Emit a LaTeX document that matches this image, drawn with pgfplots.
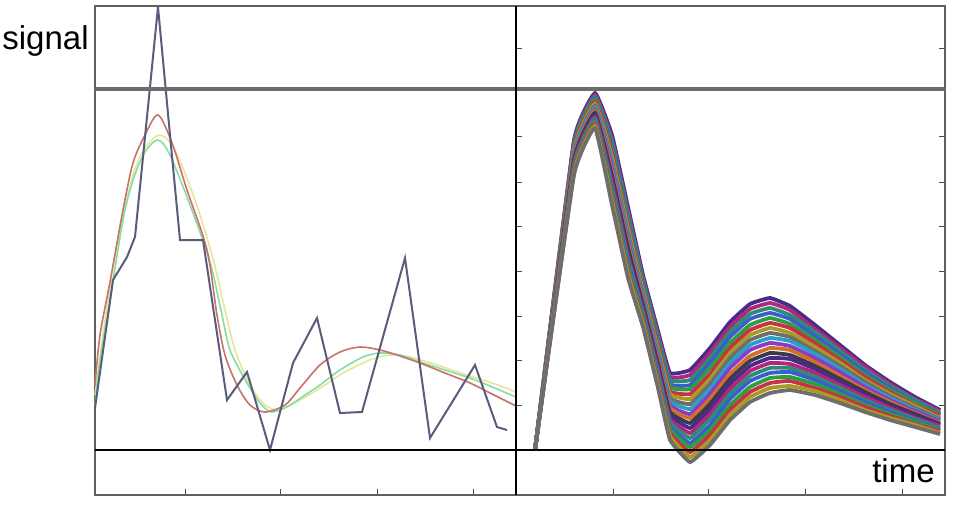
\documentclass[border=0pt]{standalone}
\usepackage{pgfplots}
\pgfplotsset{compat=1.18}
\usepackage{pgfplotstable}
\usepackage{fontspec}
\setmainfont{Liberation Sans}

\definecolor{zig}{HTML}{5A5C7E}
\definecolor{redc}{HTML}{C8726A}
\definecolor{greenc}{HTML}{88DCA4}
\definecolor{yelc}{HTML}{E6E69A}
\definecolor{b1}{HTML}{4B2A8A}
\definecolor{b2}{HTML}{B0287A}
\definecolor{b3}{HTML}{2E8B7A}
\definecolor{b4}{HTML}{3A5FCD}
\definecolor{b5}{HTML}{2E9E3E}
\definecolor{b6}{HTML}{C83246}
\definecolor{b7}{HTML}{A89A22}
\definecolor{b8}{HTML}{6E6E6E}
\definecolor{b9}{HTML}{2AA0C8}
\definecolor{b10}{HTML}{8A3CC8}
\definecolor{b11}{HTML}{D0702A}
\definecolor{b12}{HTML}{3A3A4A}

% right panel: one column per curve, pixel units (y down)
\pgfplotstableread{
x   c1  c2  c3  c4  c5  c6  c7  c8  c9  c10 c11 c12 c13 c14 c15 c16 c17 c18 c19 c20
535 450 450 450 450 450 450 450 450 450 450 450 450 450 450 450 450 450 450 450 450
574 140 142 144 146 147 149 151 153 155 157 158 160 162 164 166 168 169 171 173 175
595 93  95  97  99  100 102 104 106 108 110 111 113 115 117 119 121 122 124 126 128
612 135 139 142 146 150 153 157 161 164 168 172 176 179 183 187 190 194 198 201 205
628 207 211 214 218 222 226 229 233 237 241 244 248 252 256 259 263 267 271 274 278
643 275 278 280 283 286 289 291 294 297 300 302 305 308 311 313 316 319 322 324 327
658 331 334 337 340 343 346 349 352 355 358 361 364 367 370 373 376 379 382 385 388
670 373 377 380 384 387 391 394 398 401 405 408 412 415 419 422 426 429 433 436 440
690 370 375 380 385 389 394 399 404 409 414 418 423 428 433 438 443 447 452 457 462
710 348 353 358 363 368 374 379 384 389 394 399 404 409 414 419 425 430 435 440 445
730 322 327 332 337 343 348 353 358 363 368 374 379 384 389 394 399 405 410 415 420
750 304 309 314 319 325 330 335 340 345 350 356 361 366 371 376 381 387 392 397 402
770 298 303 308 313 318 323 328 333 338 343 348 353 358 363 368 373 378 383 388 393
790 306 310 315 319 324 328 333 337 341 346 350 355 359 364 368 372 377 381 386 390
815 325 329 332 336 340 343 347 351 354 358 362 366 369 373 377 380 384 388 391 395
840 345 348 351 354 357 360 363 366 369 372 376 379 382 385 388 391 394 397 400 403
865 365 367 370 372 375 377 380 382 385 387 390 392 395 397 400 402 405 407 410 412
890 382 384 386 388 390 392 394 396 398 400 402 404 406 408 410 412 414 416 418 420
915 397 399 400 402 403 405 406 408 410 411 413 414 416 418 419 421 422 424 425 427
940 410 411 413 414 415 416 418 419 420 421 423 424 425 426 428 429 430 431 433 434
}\bundle

\pgfplotsset{panel/.style={
  scale only axis, height=244.5pt,
  ymin=6, ymax=495, y dir=reverse,
  axis line style={draw=gray!75!black, line width=0.8pt},
  tick align=inside, major tick length=3pt,
  tick style={draw=gray!60!black, line width=0.4pt},
  xticklabels={}, yticklabels={},
  clip=false, no markers}}

\begin{document}
\begin{tikzpicture}[x=1pt,y=1pt]
\begin{axis}[panel, at={(152.75pt,-125.25pt)}, anchor=center, width=210.5pt,
  xmin=95, xmax=516, xtick={185,280,377,473}, xtick pos=bottom, ytick=\empty]
\addplot[yelc, line width=0.8pt, smooth] coordinates {(95,395)(105,320)(118,240)(133,175)(145,148)(160,135)(175,150)(195,200)(212,255)(225,310)(235,350)(250,385)(265,405)(280,410)(300,400)(320,388)(345,372)(370,360)(390,355)(410,357)(440,366)(470,376)(495,384)(516,392)};
\addplot[greenc, line width=0.8pt, smooth] coordinates {(95,405)(100,360)(110,300)(123,220)(133,180)(145,152)(158,140)(170,155)(190,205)(210,262)(222,315)(230,350)(247,383)(260,403)(272,412)(290,405)(305,395)(320,385)(340,370)(363,357)(380,353)(400,355)(420,362)(445,370)(470,378)(490,386)(516,397)};
\addplot[redc, line width=0.8pt, smooth] coordinates {(95,385)(100,335)(110,282)(123,210)(133,163)(145,135)(158,115)(172,143)(187,190)(207,250)(217,315)(225,355)(237,385)(250,405)(265,412)(285,405)(300,388)(320,365)(340,352)(360,347)(380,350)(400,356)(420,363)(445,373)(470,383)(490,393)(516,406)};
\addplot[zig, line width=1pt] coordinates {(95,408)(113,280)(127,257)(135,237)(158,7)(170,135)(180,240)(203,240)(227,400)(247,372)(270,450)(293,363)(317,318)(340,413)(362,412)(405,258)(430,438)(475,365)(497,427)(507,430)};
\addplot[draw=gray!85!black, line width=2pt] coordinates {(95,89)(516,89)};
\addplot[black, line width=1pt] coordinates {(95,450)(516,450)};
\end{axis}
\begin{axis}[panel, at={(365.25pt,-125.25pt)}, anchor=center, width=214.5pt,
  xmin=516, xmax=945, xtick={613,708,805,902}, xtick pos=bottom,
  ytick={48,136,182,226,271,316,360,405},
  cycle list={{b1},{b2},{b3},{b4},{b5},{b6},{b7},{b8},{b9},{b10},{b11},{b12}}]
\pgfplotsforeachungrouped \i in {1,...,20}{
  \addplot+[line width=1.9pt, no markers, smooth, tension=0.2] table[x index=0, y index=\i] {\bundle};
}
\addplot[draw=gray!85!black, line width=2pt] coordinates {(516,89)(945,89)};
\addplot[black, line width=1pt] coordinates {(516,450)(945,450)};
\addplot[black, line width=1.4pt] coordinates {(516,6)(516,495)};
\end{axis}
\node[anchor=base west, inner sep=0pt, font=\fontsize{16.5}{18}\selectfont] at (1,-25) {signal};
\node[anchor=base east, inner sep=0pt, font=\fontsize{16.5}{18}\selectfont] at (467.5,-241) {time};
\pgfresetboundingbox
\useasboundingbox (0,0) rectangle (478.5,-253.5);
\end{tikzpicture}
\end{document}
